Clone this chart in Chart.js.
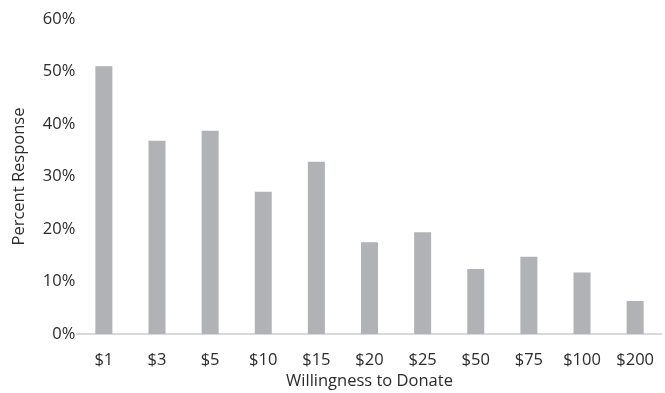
<!DOCTYPE html>
<html>
<head>
<meta charset="utf-8">
<script src="https://cdn.jsdelivr.net/npm/chart.js@4/dist/chart.umd.min.js"></script>
<style>
  html, body { margin: 0; padding: 0; background: #ffffff; overflow: hidden; }
  #wrap { width: 665px; height: 393px; overflow: hidden; }
  canvas { display: block; }
</style>
</head>
<body>
<div id="wrap"><canvas id="chart" width="670" height="393"></canvas></div>
<script>
// Donation amounts offered and the share of respondents willing to give each
const categories = ['$1', '$3', '$5', '$10', '$15', '$20', '$25', '$50', '$75', '$100', '$200'];
const percentResponse = [51.0, 36.8, 38.7, 27.1, 32.8, 17.5, 19.4, 12.4, 14.7, 11.7, 6.3];
const yTicks = [0, 10, 20, 30, 40, 50, 60];

const textColor = '#2b2b2b';
const fontFamily = '"Open Sans", "DejaVu Sans", sans-serif';
const fontSize = 16.5;

new Chart(document.getElementById('chart'), {
  type: 'bar',
  data: {
    labels: categories,
    datasets: [{
      data: percentResponse,
      backgroundColor: '#b1b2b5',
      borderWidth: 0,
      barPercentage: 0.32,
      categoryPercentage: 1.0
    }]
  },
  options: {
    responsive: false,
    animation: false,
    devicePixelRatio: 1,
    layout: { padding: { top: 19, right: 0, bottom: 2, left: 9 } },
    plugins: { legend: { display: false }, tooltip: { enabled: false } },
    scales: {
      x: {
        grid: { display: false, drawTicks: false },
        border: { display: true, color: '#d9d9d9', width: 2 },
        ticks: { color: textColor, font: { family: fontFamily, size: fontSize }, padding: 16, maxRotation: 0 },
        title: { display: true, text: 'Willingness to Donate', color: textColor,
                 font: { family: fontFamily, size: fontSize }, padding: { top: 3, bottom: 0 } },
        // keep the axis band tight: tick row plus title row
        afterFit: (scale) => { scale.height = 57; }
      },
      y: {
        min: 0,
        max: 60,
        afterBuildTicks: (scale) => { scale.ticks = yTicks.map(v => ({ value: v })); },
        grid: { display: false, drawTicks: false },
        border: { display: false },
        ticks: { color: textColor, font: { family: fontFamily, size: fontSize }, padding: 2,
                 callback: (v) => v + '%' },
        title: { display: true, text: 'Percent Response', color: textColor,
                 font: { family: fontFamily, size: fontSize }, padding: { top: 0, bottom: 12 } }
      }
    }
  }
});
</script>
</body>
</html>
